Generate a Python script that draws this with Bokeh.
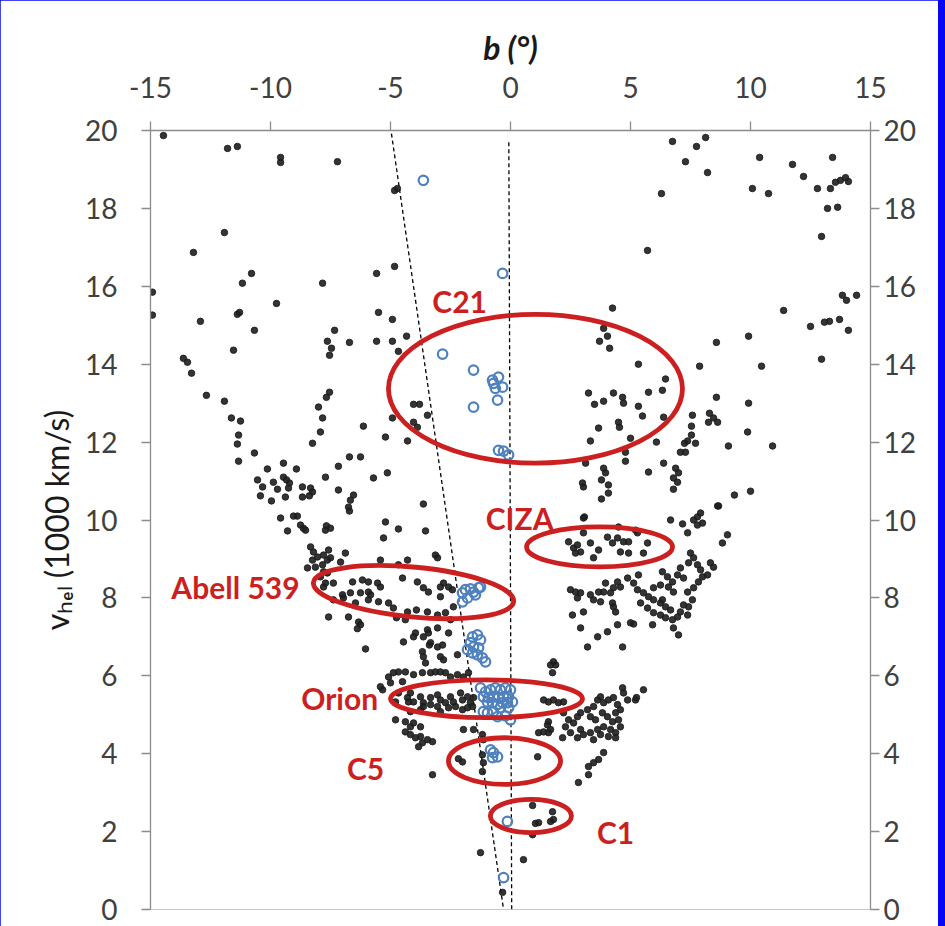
from bokeh.plotting import figure
from bokeh.models import Range1d, FixedTicker, LinearAxis, GlobalInlineStyleSheet
from bokeh.core.properties import value
from bokeh.embed import file_html
from bokeh.resources import INLINE

# ---------------- data (b in degrees, v_hel in 1000 km/s) ----------------
upper_left = [(-14.46,19.87),(-11.79,19.54),(-11.38,19.59),(-9.58,19.31),(-9.58,19.18),(-7.21,19.2),(-4.83,18.46),(-4.71,18.51),
    (-11.92,17.38),(-13.21,16.87),(-14.92,15.85),(-14.92,15.26),(-10.79,16.33),(-11.17,16.08),(-7.83,16.08),(-9.75,15.56),
    (-11.29,15.33),(-11.38,15.28),(-12.92,15.1),(-10.67,14.87),(-5.58,16.33),(-4.83,16.51),(-5.5,15.33),(-4.92,15.15),
    (-7.33,14.87),(-7.63,14.59),(-6.71,14.56),(-7.46,14.41),(-7.54,14.23),(-5.58,14.59),(-4.92,14.59),(-4.33,14.72),(-4.67,14.33),
    (-11.54,14.36),(-13.63,14.15),(-13.46,14.05),(-13.29,13.77),(-12.67,13.2),(-11.92,13.05),(-7.67,13.15),(-7.54,13.28),
    (-8.0,12.9),(-7.83,12.62),(-11.63,12.62),(-11.25,12.54),(-4.92,12.62),(-6.13,12.41),(-4.04,12.97),(-3.79,12.97),
    (-3.46,12.69),(-4.04,12.51),(-3.88,12.38)]
left_arm = [(-11.33,12.18),(-11.38,11.95),(-11.33,11.51),(-10.67,11.72),(-7.92,12.26),(-8.25,11.97),(-5.21,12.13),(-4.29,12.03),
    (-9.46,11.46),(-10.13,11.31),(-8.92,11.31),(-10.54,11.03),(-9.88,10.97),(-9.46,11.10),(-9.33,11.03),(-9.21,10.95),
    (-10.33,10.85),(-9.71,10.79),(-9.25,10.82),(-8.67,10.85),(-8.33,10.82),(-8.25,10.72),(-10.42,10.62),(-9.96,10.49),
    (-9.38,10.59),(-8.67,10.59),(-8.38,10.62),(-7.71,11.10),(-7.17,11.38),(-6.71,11.62),(-6.25,11.62),(-7.17,10.77),
    (-6.54,10.64),(-6.67,10.51),(-6.75,10.33),(-6.71,10.23),(-5.71,11.08),(-5.13,11.21),(-9.58,10.05),(-9.04,10.10),
    (-8.88,10.10),(-8.75,9.87),(-8.63,9.79),(-8.54,9.74),(-9.29,9.72),(-7.67,9.85),(-7.5,9.79),(-7.71,9.74),(-5.21,9.95),
    (-4.67,9.77),(-5.29,9.54),(-3.63,10.41),(-3.54,9.72)]
abell_region = [(-8.33,9.31),(-8.21,9.18),(-8.04,9.05),(-7.79,9.10),(-7.58,9.23),(-7.5,9.03),(-7.08,8.92),(-6.88,9.15),
    (-8.25,8.97),(-8.46,8.77),(-8.13,8.79),(-7.83,8.85),(-7.79,8.67),(-7.92,8.54),(-7.63,8.64),(-7.63,8.97),
    (-5.42,8.97),(-4.29,8.97),(-4.67,8.85),(-3.13,9.10),(-3.04,9.03),(-7.79,8.28),(-7.71,8.38),(-7.38,8.38),
    (-6.58,8.41),(-6.17,8.46),(-5.92,8.41),(-5.54,8.38),(-5.42,8.28),(-7.0,8.08),(-6.67,8.13),(-6.25,8.13),(-5.92,8.15),
    (-5.83,8.08),(-5.5,7.90),(-7.38,7.95),(-6.96,8.0),(-6.46,7.87),(-5.92,7.95),(-4.5,8.51),(-3.88,8.41),(-3.63,8.26),
    (-3.42,8.15),(-2.92,8.28),(-2.79,8.38),(-2.58,8.28),(-2.42,8.21),(-2.92,8.03),(-5.08,7.87),(-4.88,7.74),(-4.29,7.64),
    (-3.92,7.69),(-3.46,7.64),(-4.75,7.49),(-4.38,7.44),(-3.04,7.56),(-2.71,7.62),(-2.38,7.77),(-7.58,7.51),(-6.75,7.51),
    (-6.33,7.38),(-6.25,7.31),(-6.38,7.21),(-6.04,6.69),(-4.46,6.87),(-4.04,7.0),(-3.96,7.10),(-3.46,7.18),(-3.42,7.10),
    (-3.63,7.0),(-3.04,7.23),(-2.58,7.10),(-3.67,6.62),(-3.63,6.49),(-3.38,6.79),(-2.92,6.49),(-2.79,6.41),(-3.54,6.33),
    (-2.21,6.54),(-2.5,7.44),(-3.33,6.85),(-3.04,6.74),(-2.83,6.79)]
orion_region = [(-5.08,5.97),(-4.88,6.08),(-4.67,6.10),(-4.5,5.85),(-5.0,5.82),(-4.38,6.10),(-4.04,6.03),(-3.67,6.08),
    (-3.33,6.08),(-3.13,6.10),(-2.92,6.10),(-2.71,6.08),(-2.5,5.97),(-2.21,6.03),(-1.96,5.97),(-1.75,6.08),(-5.33,5.64),
    (-5.42,5.72),(-4.67,5.56),(-4.29,5.44),(-4.17,5.56),(-4.04,5.33),(-3.75,5.46),(-3.63,5.31),(-3.33,5.44),(-3.04,5.51),
    (-2.92,5.38),(-2.71,5.31),(-2.5,5.46),(-2.38,5.33),(-2.08,5.56),(-2.0,5.38),(-1.79,5.46),(-1.67,5.31),(-1.54,5.44),
    (-4.79,5.33),(-4.25,5.33),(-3.63,5.21),(-3.33,5.26),(-3.04,5.21),(-2.58,5.18),(-2.29,5.21),(-2.0,5.13),(-1.79,5.18),
    (-1.58,5.21),(-4.17,5.08),(-3.75,5.13),(-2.92,5.08),(-4.79,4.87),(-4.38,4.82),(-4.17,4.69),(-4.04,4.79),(-3.75,4.69),
    (-4.38,4.56),(-4.17,4.49),(-3.96,4.41),(-3.75,4.44),(-3.67,4.28),(-3.46,4.36),(-3.25,4.31),(-3.83,4.18),(-1.96,4.62),
    (-1.54,4.62),(-1.17,4.49),(-1.13,4.36)]
low_velocity = [(-2.17,3.87),(-2.0,3.79),(-1.17,3.97),(-1.13,3.77),(-1.17,3.54),(-3.25,3.46),(1.13,3.92),(1.58,4.82),
    (1.38,4.56),(1.67,4.62),(1.67,6.28),(1.75,6.08),(1.79,6.36),(1.88,6.28),(1.38,5.38),(1.58,5.33),(1.79,5.38),(2.0,5.31),
    (2.21,5.33),(0.92,2.67),(1.75,2.51),(1.79,2.31),(1.67,2.26),(1.17,2.23),(1.04,2.21),(0.92,1.92),(-1.25,1.46),
    (0.54,1.28),(-0.33,0.44)]
right_low = [(2.92,5.05),(3.21,5.13),(3.46,5.21),(3.63,5.38),(3.75,5.46),(3.88,5.31),(4.08,5.38),(4.29,5.44),(4.46,5.26),
    (4.67,5.69),(4.71,5.56),(4.58,5.13),(3.33,4.95),(3.54,4.87),(3.83,5.05),(4.04,4.95),(4.25,4.82),(4.38,5.05),(4.5,4.87),
    (4.58,4.69),(4.38,4.54),(4.17,4.62),(3.88,4.69),(3.63,4.62),(3.33,4.54),(2.92,4.62),(2.63,4.79),(2.42,4.87),(2.29,4.69),
    (2.5,4.54),(2.79,4.41),(3.04,4.49),(3.46,4.36),(3.75,4.49),(4.08,4.44),(4.38,4.41),(2.79,4.95),(2.21,5.05),(5.21,5.38),
    (5.54,5.64),(4.88,5.38),(2.17,4.41),(1.58,4.54),(1.54,4.74),(1.17,4.54),(5.25,5.44),(3.88,4.03),(3.67,3.85),(3.46,3.77),
    (3.25,3.67),(3.25,3.46),(2.83,3.26)]
ciza_region = [(2.42,9.44),(2.63,9.28),(2.79,9.36),(2.92,9.18),(3.04,9.67),(3.33,9.41),(3.46,9.03),(3.67,9.23),(4.04,9.56),
    (4.25,9.41),(4.46,9.54),(4.71,9.44),(4.92,9.44),(4.58,9.18),(4.92,9.15),(5.54,9.15),(5.71,9.41),(5.29,9.67),(4.5,9.82),
    (3.04,10.05),(5.21,9.74),(2.71,9.15),(6.67,10.0),(7.17,9.90),(7.38,9.67),(7.63,10.0),(8.0,9.92),(7.79,9.87),(8.67,10.36),
    (9.04,9.62),(8.83,9.41),(7.5,9.15),(7.63,9.03),(7.42,8.90),(7.79,8.85),(7.92,8.72),(8.0,8.54),(8.33,8.90),(8.46,8.79),
    (8.21,8.59),(7.83,8.41),(7.63,8.26),(7.38,8.15)]
right_mid = [(6.33,8.67),(6.54,8.54),(6.75,8.41),(6.96,8.59),(7.08,8.77),(7.21,8.51),(6.58,8.28),(6.79,8.15),(6.25,8.33),
    (5.96,8.26),(5.75,8.03),(5.96,7.95),(6.25,7.87),(6.46,7.77),(6.67,7.69),(6.25,7.56),(6.46,7.49),(6.75,7.44),(6.96,7.51),
    (7.08,7.64),(7.21,7.82),(7.42,7.77),(7.58,7.95),(7.38,7.56),(6.79,7.23),(7.0,7.05),(5.96,7.62),(5.71,7.74),(5.42,7.87),
    (5.54,8.13),(5.29,8.21),(4.88,8.51),(5.13,8.38),(5.33,8.59),(4.58,8.28),(4.46,8.41),(4.29,8.26),(4.17,8.13),(3.88,8.15),
    (3.96,8.38),(3.67,8.15),(3.33,8.08),(2.92,8.13),(2.71,8.15),(2.5,8.21),(2.79,8.0),(2.58,7.56),(3.04,7.64),(2.92,7.23),
    (3.21,6.74),(3.63,7.0),(4.04,7.13),(4.46,7.31),(4.67,6.74),(5.0,7.36),(5.13,7.33),(4.29,7.77),(4.25,7.87),(4.38,7.64),
    (3.75,7.90),(3.46,7.95),(5.92,7.31),(6.33,7.95)]
right_upper = [(6.75,19.72),(7.75,19.59),(8.13,19.82),(7.29,19.2),(8.21,18.92),(6.29,18.38),(10.38,19.31),(10.08,18.51),
    (10.75,18.38),(11.75,19.13),(12.21,18.82),(13.42,19.31),(12.79,18.51),(13.33,18.51),(13.54,18.67),(13.75,18.72),
    (13.96,18.79),(14.08,18.69),(13.21,18.0),(13.63,18.03),(12.96,17.28),(5.71,16.92),(13.83,15.77),(14.0,15.64),
    (14.42,15.77),(11.38,15.38),(12.5,14.97),(13.08,15.08),(13.29,15.10),(13.71,15.15),(14.08,14.87),(12.96,14.13),
    (4.25,15.44),(3.88,14.92),(4.04,14.72),(3.71,14.59),(4.13,14.41),(5.33,14.0),(6.46,13.62),(6.33,13.33),(5.75,13.28),
    (7.88,13.95),(8.58,14.56),(9.92,14.72),(10.46,13.95),(8.58,13.15),(9.92,13.0),(9.88,12.26),(10.92,11.90),(9.08,11.90),
    (3.25,13.26),(3.5,12.97),(3.88,13.05),(4.29,13.26),(4.67,13.15),(4.71,13.0),(5.33,12.92),(5.5,12.67),(6.38,12.64),
    (3.67,12.36),(4.5,12.51),(4.54,12.38),(3.33,12.03),(5.0,12.10),(4.79,11.74),(4.79,11.51),(6.08,12.0),(7.58,12.69),
    (7.54,12.41),(7.54,12.18),(7.38,12.03),(7.25,11.97),(7.71,11.97),(7.08,11.74),(7.29,11.74),(8.29,12.74),(8.46,12.62),
    (8.25,12.51),(8.63,12.51),(6.38,11.46),(5.75,11.23),(6.88,11.33),(7.0,11.21),(6.79,11.08),(6.96,10.97),(6.79,10.79),
    (3.13,11.46),(3.88,11.33),(3.96,11.21),(3.79,11.03),(4.08,10.90),(4.08,10.69),(3.79,10.54),(3.0,10.95),(3.04,10.85),
    (9.33,10.64),(10.0,10.74),(8.63,10.36),(3.08,10.08),(7.92,10.18),(7.79,10.08)]

blue_high = [(-3.63,18.72),(-0.33,16.33),(-2.83,14.26),(-1.54,13.85),(-1.54,12.90),(-0.71,13.51),(-0.5,13.67),(-0.63,13.38),
    (-0.33,13.41),(-0.54,13.08),(-0.75,13.59),(-0.5,11.79),(-0.29,11.77),(-0.08,11.67)]
blue_mid = [(-2.0,8.13),(-1.88,8.21),(-1.67,8.23),(-1.54,8.15),(-1.33,8.26),(-1.25,8.28),(-1.46,8.08),(-1.79,8.0),(-2.0,7.90),
    (-1.58,7.0),(-1.38,7.05),(-1.25,6.92),(-1.67,6.85),(-1.54,6.74),(-1.33,6.72),(-1.79,6.67),(-1.58,6.59),(-1.38,6.54),
    (-1.17,6.46),(-1.04,6.36)]
blue_low = [(-1.25,5.69),(-1.04,5.59),(-0.83,5.64),(-0.63,5.69),(-0.42,5.64),(-0.21,5.69),(0.0,5.64),(-1.13,5.46),(-0.92,5.44),
    (-0.71,5.46),(-0.5,5.44),(-0.29,5.46),(-0.08,5.46),(-0.96,5.33),(-0.75,5.31),(-0.54,5.26),(-0.33,5.31),(-0.13,5.31),
    (0.08,5.33),(-0.96,5.05),(-0.71,5.08),(-0.42,5.18),(-0.08,5.18),(0.0,4.87),(-0.21,4.97),(-0.54,4.95),(-1.13,5.08),
    (-0.83,4.10),(-0.71,4.03),(-0.54,3.92),(-0.75,3.90),(-0.13,2.26),(-0.29,0.82)]

# structures (ellipses): centre b, centre v, width (deg), height (1000 km/s), tilt (rad)
struct_names = ["C21", "CIZA", "Abell 539", "Orion", "C5", "C1"]
struct_b = [1.04, 3.71, -4.04, -1.0, -0.25, 0.85]
struct_v = [13.37, 9.31, 8.15, 5.41, 3.81, 2.40]
struct_w = [12.25, 6.08, 8.38, 8.0, 4.67, 3.38]
struct_h = [3.82, 1.03, 1.28, 0.97, 1.2, 0.85]
struct_tilt = [0.0, 0.0, -0.095, 0.0, 0.0, 0.0]
label_b = [-2.12, 0.38, -11.46, -7.12, -6.04, 4.38]
label_v = [15.62, 10.05, 8.28, 5.44, 3.64, 2.0]

# dashed guide lines
guide_vertical_b = [-0.07, 0.05]
guide_vertical_v = [19.7, -0.05]
guide_slant_b = [-4.96, -0.29]
guide_slant_v = [19.92, 0.0]

x_ticks = [-15, -10, -5, 0, 5, 10, 15]
x_tick_labels = ["-15", "-10", "-5", "0", "5", "10", "15"]
y_ticks = [0, 2, 4, 6, 8, 10, 12, 14, 16, 18, 20]
y_tick_labels = ["0", "2", "4", "6", "8", "10", "12", "14", "16", "18", "20"]
x_title = "b (°)"
y_title = "vₕₑₗ (1000 km/s)"

# ---------------- figure ----------------
FONT = "Lato"
TICK_COLOR = "#404040"
AXIS_COLOR = "#8c8c8c"
TITLE_COLOR = "#1a1a1a"
RED = "#cc1f1f"

p = figure(width=938, height=926, x_range=Range1d(-15, 15), y_range=Range1d(0, 20),
           x_axis_location="above", output_backend="svg", toolbar_location=None,
           min_border_left=150, min_border_top=130, min_border_right=68, min_border_bottom=17)
p.grid.visible = False
p.outline_line_color = None
p.background_fill_color = "white"
p.border_fill_color = "white"
# slide background visible at the right edge of the page
p.stylesheets = [GlobalInlineStyleSheet(css="html, body { background: #0606f5; }")]

def style_axis(ax, ticks, labels, standoff):
    ax.ticker = FixedTicker(ticks=ticks)
    ax.major_label_overrides = {t: s for t, s in zip(ticks, labels)}
    ax.axis_line_color = AXIS_COLOR
    ax.axis_line_width = 1.3
    ax.major_tick_line_color = AXIS_COLOR
    ax.major_tick_line_width = 1.3
    ax.major_tick_out = 9
    ax.major_tick_in = 0
    ax.minor_tick_line_color = None
    ax.major_label_text_font = FONT
    ax.major_label_text_font_size = "28px"
    ax.major_label_text_color = TICK_COLOR
    ax.major_label_standoff = standoff
    ax.axis_label_text_font = FONT
    ax.axis_label_text_font_size = "32px"
    ax.axis_label_text_color = TITLE_COLOR

style_axis(p.xaxis[0], x_ticks, x_tick_labels, 24)
p.xaxis[0].axis_label = x_title
p.xaxis[0].axis_label_text_font_style = "bold italic"
p.xaxis[0].axis_label_standoff = 7
style_axis(p.yaxis[0], y_ticks, y_tick_labels, 24)
p.yaxis[0].axis_label = y_title
p.yaxis[0].axis_label_text_font_style = "normal"
p.yaxis[0].axis_label_standoff = 6
right_axis = LinearAxis()
style_axis(right_axis, y_ticks, y_tick_labels, 4)
p.add_layout(right_axis, "right")

# guide lines
p.line(guide_vertical_b, guide_vertical_v, line_color="black", line_width=1.3, line_dash="4 3")
p.line(guide_slant_b, guide_slant_v, line_color="black", line_width=1.3, line_dash="4 3")

# galaxies
black = upper_left + left_arm + abell_region + orion_region + low_velocity + right_low + ciza_region + right_mid + right_upper
p.scatter([q[0] for q in black], [q[1] for q in black], size=6.5, marker="circle",
          fill_color="#1e1e1e", line_color="#1e1e1e", fill_alpha=0.9, line_alpha=0.9)
blue = blue_high + blue_mid + blue_low
p.scatter([q[0] for q in blue], [q[1] for q in blue], size=9.5, marker="circle",
          fill_color=None, line_color="#4f81bd", line_width=2.2)

# structures
p.ellipse(x=struct_b, y=struct_v, width=struct_w, height=struct_h, angle=struct_tilt,
          fill_color=None, line_color=RED, line_width=4.8)
p.text(x=label_b, y=label_v, text=struct_names, text_font=value(FONT), text_font_style="bold",
       text_font_size="30px", text_color=RED, text_align="center", text_baseline="middle")

open("out.html", "w").write(file_html(p, INLINE))
